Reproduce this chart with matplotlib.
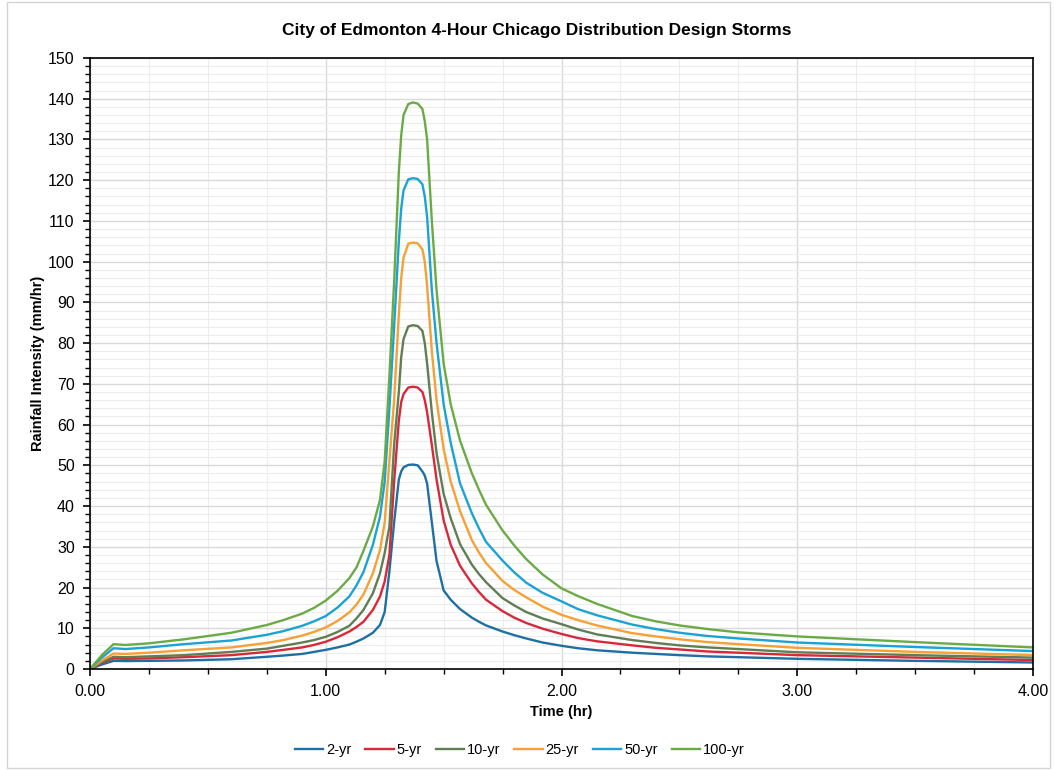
import matplotlib
matplotlib.use('Agg')
import matplotlib.pyplot as plt
from matplotlib.ticker import MultipleLocator, FormatStrFormatter
from matplotlib.patches import Rectangle

plt.rcParams['font.family'] = ['Liberation Sans', 'DejaVu Sans']

time_hr = [0, 0.05, 0.1, 0.15, 0.25, 0.4, 0.6, 0.75, 0.82, 0.9,
           0.95, 1.0, 1.05, 1.1, 1.13, 1.16, 1.2, 1.23, 1.25, 1.27,
           1.29, 1.31, 1.32, 1.33, 1.35, 1.37, 1.39, 1.41, 1.42, 1.43,
           1.45, 1.47, 1.5, 1.53, 1.57, 1.62, 1.65, 1.68, 1.75, 1.8,
           1.85, 1.92, 2.0, 2.07, 2.15, 2.3, 2.4, 2.5, 2.62, 2.75,
           3.0, 3.5, 4.0]

# Rainfall intensity (mm/hr) per return period
yr2 = [0, 1.1, 2.0, 1.95, 2.0, 2.1, 2.4, 3.0, 3.3, 3.7,
       4.2, 4.7, 5.3, 6.0, 6.7, 7.5, 8.9, 10.8, 14.0, 24.0,
       36.0, 46.5, 48.5, 49.5, 50.1, 50.2, 50.0, 48.5, 47.5, 45.5,
       36.0, 26.5, 19.3, 17.0, 14.7, 12.6, 11.6, 10.7, 9.2, 8.3,
       7.5, 6.5, 5.7, 5.1, 4.6, 4.0, 3.7, 3.4, 3.1, 2.9,
       2.5, 2.0, 1.6]
yr5 = [0, 1.5, 2.6, 2.5, 2.6, 2.9, 3.4, 4.2, 4.7, 5.3,
       5.9, 6.7, 7.8, 9.2, 10.3, 11.6, 14.5, 17.8, 21.5, 28.0,
       46.0, 61.0, 65.5, 67.5, 69.1, 69.3, 69.1, 68.0, 66.0, 63.0,
       55.0, 46.5, 36.5, 30.5, 25.3, 21.0, 18.9, 17.0, 14.2, 12.6,
       11.3, 9.9, 8.6, 7.6, 6.8, 5.8, 5.2, 4.8, 4.3, 4.0,
       3.4, 2.8, 2.2]
yr10 = [0, 1.7, 3.0, 2.9, 3.1, 3.4, 4.2, 5.0, 5.7, 6.5,
        7.1, 7.9, 9.1, 10.6, 12.4, 14.5, 18.6, 23.5, 28.5, 35.0,
        55.0, 68.0, 76.5, 81.0, 84.1, 84.4, 84.2, 83.0, 80.0, 75.0,
        63.0, 53.0, 43.0, 37.0, 30.6, 25.6, 23.3, 21.3, 17.4, 15.6,
        14.0, 12.4, 11.0, 9.7, 8.5, 7.1, 6.4, 5.8, 5.3, 4.9,
        4.1, 3.4, 2.8]
yr25 = [0, 2.1, 3.8, 3.7, 4.0, 4.6, 5.3, 6.4, 7.1, 8.2,
        9.1, 10.2, 11.8, 13.9, 15.8, 18.3, 23.5, 29.2, 36.0, 51.0,
        66.0, 87.0, 96.0, 101.0, 104.4, 104.7, 104.5, 103.0, 100.0, 94.0,
        78.0, 66.0, 54.0, 46.0, 38.7, 31.6, 28.6, 26.0, 21.6, 19.4,
        17.6, 15.3, 13.3, 12.0, 10.7, 8.8, 8.0, 7.3, 6.6, 6.1,
        5.2, 4.2, 3.4]
yr50 = [0, 2.8, 5.1, 4.9, 5.3, 6.1, 7.0, 8.4, 9.3, 10.6,
        11.7, 13.0, 15.1, 17.8, 20.5, 23.8, 30.5, 37.4, 46.0, 64.0,
        84.0, 105.0, 113.0, 117.5, 120.2, 120.5, 120.3, 119.0, 116.0, 111.0,
        93.0, 80.0, 65.0, 55.5, 45.5, 38.2, 34.5, 31.2, 26.6, 23.7,
        21.2, 18.7, 16.6, 14.7, 13.2, 10.9, 9.8, 8.9, 8.1, 7.5,
        6.5, 5.4, 4.4]
yr100 = [0, 3.4, 6.1, 5.9, 6.3, 7.3, 8.9, 10.8, 12.0, 13.6,
         15.0, 16.8, 19.2, 22.3, 24.9, 29.0, 35.0, 41.5, 51.0, 72.0,
         95.0, 122.0, 131.0, 136.0, 138.7, 139.1, 138.8, 137.5, 134.5, 130.0,
         110.0, 93.0, 75.0, 65.0, 56.0, 48.0, 44.0, 40.3, 34.0, 30.3,
         27.0, 23.2, 19.8, 17.9, 16.0, 13.0, 11.7, 10.7, 9.8, 9.0,
         8.0, 6.6, 5.3]

series = [yr2, yr5, yr10, yr25, yr50, yr100]
labels = ['2-yr', '5-yr', '10-yr', '25-yr', '50-yr', '100-yr']
colors = ['#1f6fa3', '#d9283a', '#5f7f52', '#f7a033', '#1aa3d4', '#6aab46']

fig = plt.figure(figsize=(10.54, 7.70), dpi=100)
ax = fig.add_axes([90/1054, 1-669/770, (1033-90)/1054, (669-58)/770])

for vals, lab, col in zip(series, labels, colors):
    ax.plot(time_hr, vals, color=col, lw=1.7, label=lab, solid_joinstyle='round')

ax.set_xlim(0, 4)
ax.set_ylim(0, 150)
ax.xaxis.set_major_locator(MultipleLocator(1))
ax.xaxis.set_minor_locator(MultipleLocator(0.25))
ax.yaxis.set_major_locator(MultipleLocator(10))
ax.yaxis.set_minor_locator(MultipleLocator(2))
ax.xaxis.set_major_formatter(FormatStrFormatter('%.2f'))

# gridlines: light minor, slightly darker major
ax.grid(which='major', color='#d9d9d9', lw=1.0)
ax.grid(which='minor', color='#ededed', lw=0.8)
ax.set_axisbelow(True)

for s in ax.spines.values():
    s.set_color('black')
    s.set_linewidth(1.2)
ax.tick_params(which='major', direction='out', length=5, width=1.2, labelsize=11.5, colors='black', pad=6)
ax.tick_params(which='minor', direction='out', length=3.5, width=1.0, colors='black')

ax.set_xlabel('Time (hr)', fontsize=10.5, fontweight='bold', labelpad=4)
ax.set_ylabel('Rainfall Intensity (mm/hr)', fontsize=10.5, fontweight='bold', labelpad=2)

fig.text(0.509, 0.961, 'City of Edmonton 4-Hour Chicago Distribution Design Storms',
         ha='center', va='center', fontsize=12.5, fontweight='bold')

fig.legend(loc='center', bbox_to_anchor=(0.493, 0.026), ncol=6, frameon=False,
           fontsize=10.5, handlelength=1.95, columnspacing=0.95, handletextpad=0.2)

# light border round the whole chart
fig.patches.append(Rectangle((7/1054, 0.002), 1043/1054, 0.995, transform=fig.transFigure,
                             fill=False, edgecolor='#d4d4d4', lw=1.0))

fig.savefig('out.png', dpi=100)
